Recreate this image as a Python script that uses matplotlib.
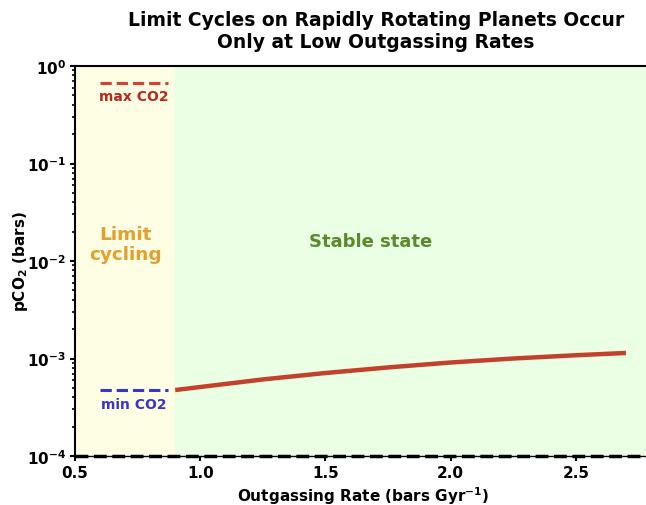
import matplotlib
matplotlib.use("Agg")
import matplotlib.pyplot as plt
import numpy as np

# outgassing rate (bars/Gyr) vs equilibrium pCO2 (bars)
outgassing = [0.9, 1.0, 1.25, 1.5, 1.75, 2.0, 2.25, 2.5, 2.7]
pco2 = [4.75e-4, 5.1e-4, 6.1e-4, 7.1e-4, 8.1e-4, 9.1e-4, 1.0e-3, 1.08e-3, 1.14e-3]

cycle_limit = 0.9
x_range = (0.5, 2.8)
max_co2 = 0.67
min_co2 = 4.7e-4
co2_line_x = (0.6, 0.87)

plt.rcParams['font.family'] = 'DejaVu Sans'
plt.rcParams['font.weight'] = 'bold'

fig = plt.figure(figsize=(6.46, 5.06), dpi=100)
ax = fig.add_axes([75 / 646, 49 / 506, 576 / 646, 390 / 506])

ax.axvspan(x_range[0], cycle_limit, color='#fefee4', zorder=0)
ax.axvspan(cycle_limit, x_range[1], color='#eaffe3', zorder=0)

ax.plot(outgassing, pco2, color='#c2412b', lw=3.2, solid_capstyle='butt')

ax.hlines(max_co2, *co2_line_x, colors='#d9412f', linestyles='--', lw=2.2)
ax.hlines(min_co2, *co2_line_x, colors='#3a33cc', linestyles='--', lw=2.2)
ax.text(np.mean(co2_line_x), max_co2 * 0.86, 'max CO2', color='#b8281c',
        ha='center', va='top', fontsize=10, fontweight='bold')
ax.text(np.mean(co2_line_x), min_co2 * 0.86, 'min CO2', color='#3a33cc',
        ha='center', va='top', fontsize=10, fontweight='bold')

ax.text(0.7, 1.5e-2, 'Limit\ncycling', color='#e3a02c', ha='center', va='center',
        fontsize=13.3, fontweight='bold', linespacing=1.15)
ax.text(1.68, 1.6e-2, 'Stable state', color='#5a8a2c', ha='center', va='center',
        fontsize=13, fontweight='bold')

ax.set_yscale('log')
ax.set_ylim(1e-4, 1e0)
ax.set_xlim(*x_range)
ax.set_xticks([0.5, 1.0, 1.5, 2.0, 2.5])
ax.tick_params(axis='both', labelsize=11, width=1.5, pad=3)
ax.tick_params(axis='y', which='minor', width=1.2)
for lab in ax.get_xticklabels() + ax.get_yticklabels():
    lab.set_fontweight('bold')

ax.spines['right'].set_visible(False)
ax.spines['left'].set_linewidth(1.5)
ax.spines['top'].set_linewidth(1.5)
ax.spines['bottom'].set_linewidth(1.0)
ax.axhline(1e-4, color='black', ls='--', lw=2.5, clip_on=False)

ax.set_xlabel('Outgassing Rate (bars Gyr$^{\\mathbf{-1}}$)', fontsize=11,
              fontweight='bold', labelpad=3)
ax.set_ylabel('pCO$_\\mathbf{2}$ (bars)', fontsize=11, fontweight='bold', labelpad=-2)
ax.set_title('Limit Cycles on Rapidly Rotating Planets Occur\nOnly at Low Outgassing Rates',
             fontsize=13.5, fontweight='bold', x=(376 - 75) / 576, pad=14)

fig.savefig('out.png', dpi=100)
